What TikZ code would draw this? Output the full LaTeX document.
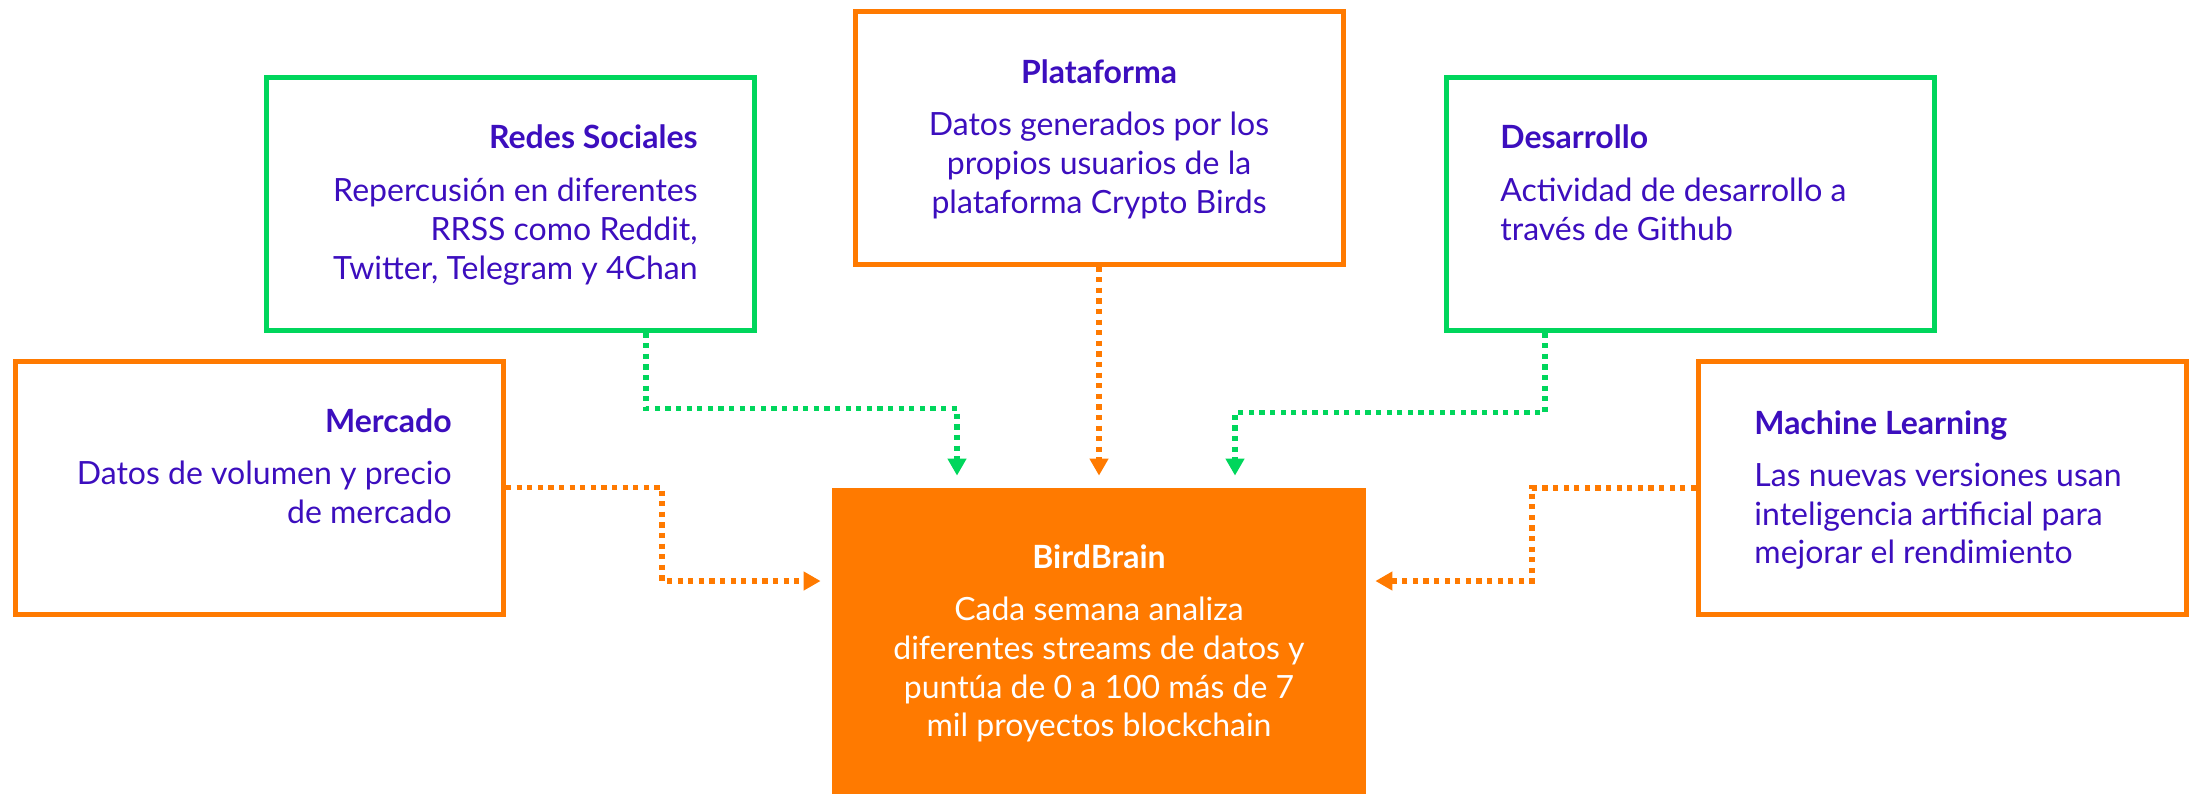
\documentclass[tikz,border=0pt]{standalone}
\usepackage{fontspec}
\setmainfont{Lato}
\usetikzlibrary{arrows.meta,positioning}

\definecolor{cbOrange}{HTML}{FF7A00}
\definecolor{cbGreen}{HTML}{00D65C}
\definecolor{cbPurple}{HTML}{3C0EBE}

\begin{document}
\begin{tikzpicture}[
    x=0.5pt, y=-0.5pt,
  src/.style={draw, line width=2.5pt, minimum width=244pt, minimum height=126.5pt, inner sep=0pt},
  head/.style={font=\fontsize{16}{19.3}\selectfont\bfseries, text=cbPurple, inner sep=0pt},
  body/.style={font=\fontsize{16}{19.3}\selectfont, text=cbPurple, inner sep=0pt},
  flow/.style={line width=2.6pt, dash pattern=on 2.6pt off 2.7pt,
    -{Triangle[width=9pt,length=8.5pt]}, shorten >=6pt}
]
\useasboundingbox (0,0) rectangle (2191,794);

% --- source boxes ---
\node[src, cbGreen]  (redes) at (510,203.5)   {};
\node[src, cbOrange] (plat)  at (1099,137.5)  {};
\node[src, cbGreen]  (desa)  at (1690,203.5)  {};
\node[src, cbOrange] (merc)  at (259.5,487.5) {};
\node[src, cbOrange] (ml)    at (1942.5,488)  {};

% --- central box ---
\node[fill=cbOrange, minimum width=267pt, minimum height=153pt, inner sep=0pt] (bird) at (1099,641) {};

% --- texts ---
\node[head, anchor=base east] (redesT) at (698,148) {Redes Sociales};
\node[body, anchor=north east, align=right] (redesB) at (698,178)
  {Repercusión en diferentes\\ RRSS como Reddit,\\ Twitter, Telegram y 4Chan};

\node[head, anchor=base] (platT) at (1099,83.5) {Plataforma};
\node[body, anchor=north, align=center] (platB) at (1099,112)
  {Datos generados por los\\ propios usuarios de la\\ plataforma Crypto Birds};

\node[head, anchor=base west] (desaT) at (1500,148) {Desarrollo};
\node[body, anchor=north west, align=left] (desaB) at (1500,178)
  {Actividad de desarrollo a\\ través de Github};

\node[head, anchor=base east] (mercT) at (452,432) {Mercado};
\node[body, anchor=north east, align=right] (mercB) at (452,461)
  {Datos de volumen y precio\\ de mercado};

\node[head, anchor=base west] (mlT) at (1754,434) {Machine Learning};
\node[body, anchor=north west, align=left] (mlB) at (1754,463)
  {Las nuevas versiones usan\\ inteligencia artificial para\\ mejorar el rendimiento};

\node[head, text=white, anchor=base] (birdT) at (1099,568) {BirdBrain};
\node[body, text=white, anchor=north, align=center] (birdB) at (1099,597)
  {Cada semana analiza\\ diferentes streams de datos y\\ puntúa de 0 a 100 más de 7\\ mil proyectos blockchain};

% --- flows into BirdBrain ---
\draw[flow, cbGreen] ([xshift=68pt]redes.south) -- ++(0,-38pt) -| ([xshift=-71pt]bird.north);
\draw[flow, cbOrange] (plat.south) -- (bird.north);
\draw[flow, cbGreen] ([xshift=-72.5pt]desa.south) -- ++(0,-40pt) -| ([xshift=68pt]bird.north);
\draw[flow, cbOrange, shorten >=5.5pt] (merc.east) -- ++(78pt,0) |- ([yshift=30pt]bird.west);
\draw[flow, cbOrange, shorten >=4.5pt] (ml.west) -- ++(-82pt,0) |- ([yshift=30pt]bird.east);
\end{tikzpicture}
\end{document}
